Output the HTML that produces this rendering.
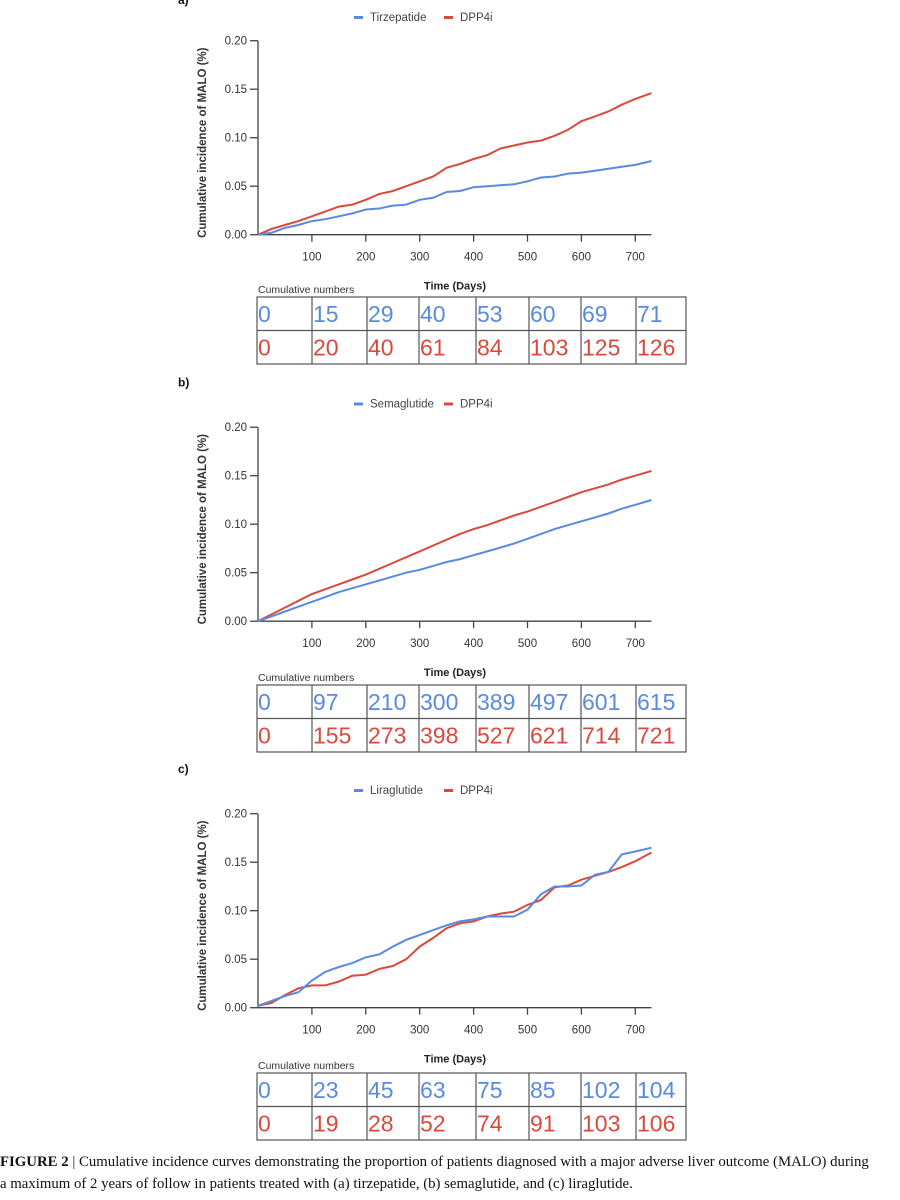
<!DOCTYPE html>
<html><head><meta charset="utf-8"><style>
body{margin:0;background:#fff;width:900px;height:1200px;overflow:hidden;font-family:"Liberation Sans",sans-serif}
svg{position:absolute;left:0;top:0}
</style></head><body>
<svg id="fig" width="900" height="1200"></svg>
<script>
const days = [0,25,50,75,100,125,150,175,200,225,250,275,300,325,350,375,400,425,450,475,500,525,550,575,600,625,650,675,700,730];
const aBlue = [0,0.002,0.007,0.01,0.014,0.016,0.019,0.022,0.026,0.027,0.03,0.031,0.036,0.038,0.044,0.045,0.049,0.05,0.051,0.052,0.055,0.059,0.06,0.063,0.064,0.066,0.068,0.07,0.072,0.076];
const aRed = [0,0.006,0.01,0.014,0.019,0.024,0.029,0.031,0.036,0.042,0.045,0.05,0.055,0.06,0.069,0.073,0.078,0.082,0.089,0.092,0.095,0.097,0.102,0.108,0.117,0.122,0.127,0.134,0.14,0.146];
const bBlue = [0,0.005,0.01,0.015,0.02,0.025,0.03,0.034,0.038,0.042,0.046,0.05,0.053,0.057,0.061,0.064,0.068,0.072,0.076,0.08,0.085,0.09,0.095,0.099,0.103,0.107,0.111,0.116,0.12,0.125];
const bRed = [0,0.007,0.014,0.021,0.028,0.033,0.038,0.043,0.048,0.054,0.06,0.066,0.072,0.078,0.084,0.09,0.095,0.099,0.104,0.109,0.113,0.118,0.123,0.128,0.133,0.137,0.141,0.146,0.15,0.155];
const cBlue = [0.002,0.007,0.012,0.016,0.028,0.037,0.042,0.046,0.052,0.055,0.063,0.07,0.075,0.08,0.085,0.089,0.091,0.094,0.094,0.094,0.101,0.117,0.125,0.125,0.126,0.137,0.14,0.158,0.161,0.165];
const cRed = [0.002,0.005,0.013,0.02,0.023,0.023,0.027,0.033,0.034,0.04,0.043,0.05,0.063,0.072,0.082,0.087,0.089,0.094,0.097,0.099,0.106,0.111,0.124,0.126,0.132,0.136,0.14,0.145,0.151,0.16];
const xTicks = [100,200,300,400,500,600,700];
const yTicks = [0,0.05,0.10,0.15,0.20];
const aNumsBlue = ["0","15","29","40","53","60","69","71"];
const aNumsRed = ["0","20","40","61","84","103","125","126"];
const bNumsBlue = ["0","97","210","300","389","497","601","615"];
const bNumsRed = ["0","155","273","398","527","621","714","721"];
const cNumsBlue = ["0","23","45","63","75","85","102","104"];
const cNumsRed = ["0","19","28","52","74","91","103","106"];

const BLUE="#5a8ae0", RED="#d94a3c";
const svg=document.getElementById('fig');
const NS="http://www.w3.org/2000/svg";
function mk(tag,attrs,parent,txt){const e=document.createElementNS(NS,tag);for(const k in attrs)e.setAttribute(k,attrs[k]);if(txt!==undefined)e.textContent=txt;(parent||svg).appendChild(e);return e;}
const X0=258, PX=0.539;
function xs(d){return X0+d*PX;}
const colX=[257,312,367,419,476,529,581,636,686];

function panel(id,off,labelTxt,name,blue,red,nb,nr,tableTop){
  const g=mk('g',{},svg);
  
  
  const y0=234.7+off, ppu=194/0.2;
  const ys=v=>y0-v*ppu;
  const lab=mk('text',{x:178,y:off+(id==='a'?4:0),'font-size':12,'font-weight':'bold',fill:'#111'},g,labelTxt);
  
  
  const lg=mk('g',{},g);
  
  
  mk('rect',{x:354,y:off+16,width:9,height:3,fill:BLUE},lg);
  mk('text',{x:370,y:off+21,'font-size':11.5,fill:'#444'},lg,name);
  mk('rect',{x:444,y:off+16,width:9,height:3,fill:RED},lg);
  mk('text',{x:460,y:off+21,'font-size':11.5,fill:'#444'},lg,'DPP4i');
  const ax=mk('g',{stroke:'#444','stroke-width':1.3,fill:'none'},g);
  
  
  mk('line',{x1:X0,y1:ys(0.2),x2:X0,y2:y0},ax);
  mk('line',{x1:X0,y1:y0,x2:xs(730),y2:y0},ax);
  yTicks.forEach(t=>{
    mk('line',{x1:X0-8,y1:ys(t),x2:X0,y2:ys(t)},ax);
    const tt=mk('text',{x:X0-11,y:ys(t)+4,'font-size':11.5,fill:'#333','text-anchor':'end'},g,t.toFixed(2));
    
    
  });
  xTicks.forEach(t=>{
    mk('line',{x1:xs(t),y1:y0,x2:xs(t),y2:y0+7},ax);
    const tt=mk('text',{x:xs(t),y:y0+26,'font-size':11.5,fill:'#333','text-anchor':'middle'},g,String(t));
    
    
  });
  const yt=mk('text',{x:0,y:0,'font-size':11.5,'font-weight':'bold',fill:'#333','text-anchor':'middle',transform:`translate(206,${(ys(0.2)+y0)/2+5}) rotate(-90)`},g,'Cumulative incidence of MALO (%)');
  
  
  const xt=mk('text',{x:455,y:y0+55,'font-size':11,'font-weight':'bold',fill:'#222','text-anchor':'middle'},g,'Time (Days)');
  
  
  [[red,RED,'dpp4i-line'],[blue,BLUE,name.toLowerCase()+'-line']].forEach(([vals,col,nm])=>{
    let d='';
    vals.forEach((v,i)=>{d+=(i?'L':'M')+xs(days[i]).toFixed(1)+','+ys(v).toFixed(1);});
    const p=mk('path',{d:d,stroke:col,'stroke-width':2,fill:'none'},g);
    
    
  });
  const tb=mk('g',{},g);
  
  
  const cn=mk('text',{x:258,y:tableTop-4,'font-size':10.5,fill:'#333'},tb,'Cumulative numbers');
  
  
  const rh=33.5;
  mk('rect',{x:colX[0],y:tableTop,width:colX[8]-colX[0],height:rh*2,fill:'none',stroke:'#555','stroke-width':1.2},tb);
  mk('line',{x1:colX[0],y1:tableTop+rh,x2:colX[8],y2:tableTop+rh,stroke:'#555','stroke-width':1.2},tb);
  for(let i=1;i<8;i++) mk('line',{x1:colX[i],y1:tableTop,x2:colX[i],y2:tableTop+rh*2,stroke:'#555','stroke-width':1.2},tb);
  nb.forEach((v,i)=>{const t=mk('text',{x:colX[i]+1,y:tableTop+25,'font-size':23,fill:BLUE},tb,v);
    });
  nr.forEach((v,i)=>{const t=mk('text',{x:colX[i]+1,y:tableTop+rh+25,'font-size':23,fill:RED},tb,v);
    });
}
panel('a',0,'a)','Tirzepatide',aBlue,aRed,aNumsBlue,aNumsRed,297);
panel('b',386.5,'b)','Semaglutide',bBlue,bRed,bNumsBlue,bNumsRed,685);
panel('c',773,'c)','Liraglutide',cBlue,cRed,cNumsBlue,cNumsRed,1073);
const cap=mk('text',{x:0,y:1166,'font-size':14.8,fill:'#111','font-family':'Liberation Serif, serif'},svg);


mk('tspan',{'font-weight':'bold'},cap,'FIGURE 2');
mk('tspan',{},cap,'  |   Cumulative incidence curves demonstrating the proportion of patients diagnosed with a major adverse liver outcome (MALO) during');
const cap2=mk('text',{x:0,y:1188,'font-size':14.8,fill:'#111','font-family':'Liberation Serif, serif'},svg,'a maximum of 2 years of follow in patients treated with (a) tirzepatide, (b) semaglutide, and (c) liraglutide.');


</script>
</body></html>
